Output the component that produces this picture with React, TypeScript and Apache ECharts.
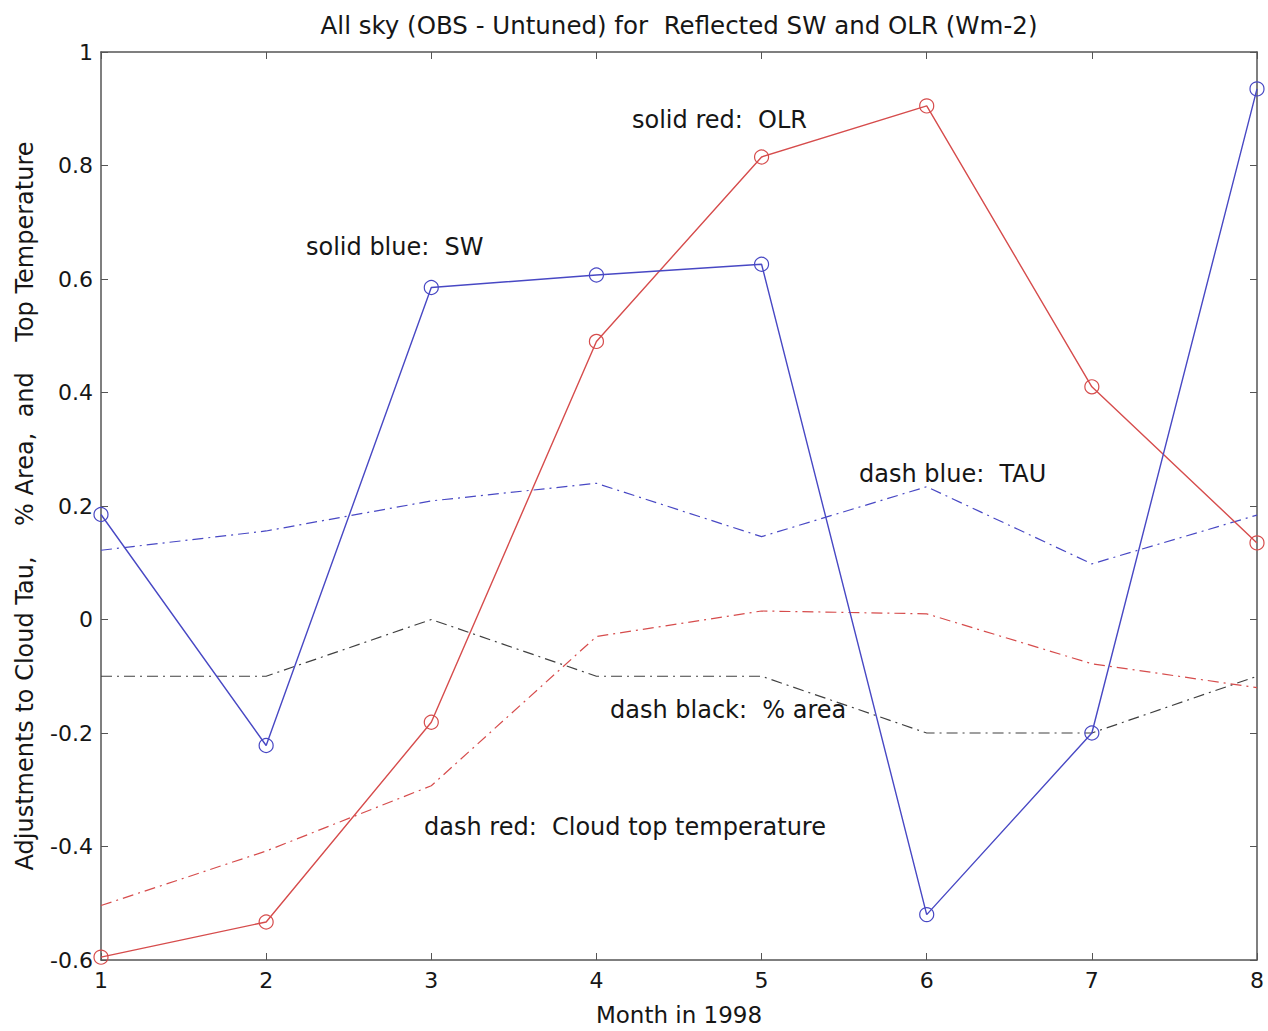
import React, { useEffect, useRef } from "react";
import * as echarts from "echarts";

const months = [1, 2, 3, 4, 5, 6, 7, 8];
const swSolidBlue = [0.185, -0.222, 0.585, 0.607, 0.626, -0.52, -0.2, 0.935];
const olrSolidRed = [-0.595, -0.533, -0.181, 0.49, 0.815, 0.905, 0.41, 0.135];
const tauDashBlue = [0.122, 0.156, 0.209, 0.24, 0.146, 0.234, 0.098, 0.184];
const areaDashBlack = [-0.1, -0.1, 0.0, -0.1, -0.1, -0.2, -0.2, -0.1];
const tempDashRed = [-0.504, -0.408, -0.293, -0.03, 0.015, 0.01, -0.078, -0.12];
const yTicks = [-0.6, -0.4, -0.2, 0, 0.2, 0.4, 0.6, 0.8, 1];

const titleText = "All sky (OBS - Untuned) for  Reflected SW and OLR (Wm-2)";
const xLabel = "Month in 1998";
const yLabel = "Adjustments to Cloud Tau,    % Area,  and    Top Temperature";

const BLUE = "#4848c4";
const RED = "#d64c4c";
const BLACK = "#404040";
const AXIS = "#555555";
const FONT = "DejaVu Sans, Liberation Sans, Arial, sans-serif";
const TXT = "#161616";

const pairs = (ys: number[]) => months.map((m, i) => [m, ys[i]]);

export default function App() {
  const ref = useRef<HTMLDivElement>(null);
  useEffect(() => {
    document.body.style.margin = "0";
    const chart = echarts.init(ref.current!, undefined, { renderer: "svg" });
    const dashDot = [11, 5, 2, 5];
    const axisCommon = {
      min: 1,
      max: 8,
      interval: 1,
      axisLine: { show: true, onZero: false, lineStyle: { color: AXIS, width: 1.5 } },
      axisTick: { show: true, inside: true, length: 7, lineStyle: { color: AXIS, width: 1 } },
      splitLine: { show: false },
    };
    const yCommon = {
      min: -0.6,
      max: 1,
      interval: 0.2,
      axisLine: { show: true, onZero: false, lineStyle: { color: AXIS, width: 1.5 } },
      axisTick: { show: true, inside: true, length: 7, lineStyle: { color: AXIS, width: 1 } },
      splitLine: { show: false },
    };
    const annot = (text: string, left: number, top: number) => ({
      type: "text",
      left,
      top,
      style: { text, fontSize: 24, fill: TXT, fontFamily: FONT },
    });
    chart.setOption({
      animation: false,
      backgroundColor: "#ffffff",
      textStyle: { fontFamily: FONT },
      title: {
        text: titleText,
        left: 674,
        top: 8,
        textAlign: "center",
        textStyle: { fontSize: 24.5, fontWeight: "normal", color: TXT, fontFamily: FONT },
      },
      grid: { left: 101, top: 52, right: 11, bottom: 68 },
      xAxis: [
        {
          type: "value",
          position: "bottom",
          ...axisCommon,
          axisLabel: { color: TXT, fontSize: 22, margin: 9, fontFamily: FONT },
          name: xLabel,
          nameLocation: "middle",
          nameGap: 43,
          nameTextStyle: { color: TXT, fontSize: 23, fontFamily: FONT },
        },
        {
          type: "value",
          position: "top",
          ...axisCommon,
          axisLabel: { show: false },
        },
      ],
      yAxis: [
        {
          type: "value",
          position: "left",
          ...yCommon,
          axisLabel: {
            color: TXT,
            fontSize: 22,
            margin: 8,
            fontFamily: FONT,
            formatter: (v: number) => {
              const r = Math.round(v * 10) / 10;
              const found = yTicks.find((t) => Math.abs(t - r) < 1e-9);
              return found === undefined ? "" : String(found);
            },
          },
          name: yLabel,
          nameLocation: "middle",
          nameGap: 64,
          nameRotate: 90,
          nameTextStyle: { color: TXT, fontSize: 24, fontFamily: FONT },
        },
        {
          type: "value",
          position: "right",
          ...yCommon,
          axisLabel: { show: false },
        },
      ],
      graphic: [
        annot("solid red:  OLR", 632, 108),
        annot("solid blue:  SW", 306, 235),
        annot("dash blue:  TAU", 859, 462),
        annot("dash black:  % area", 610, 698),
        annot("dash red:  Cloud top temperature", 424, 815),
      ],
      series: [
        {
          type: "line",
          name: "TAU",
          data: pairs(tauDashBlue),
          symbol: "none",
          lineStyle: { color: BLUE, width: 1.2, type: dashDot },
        },
        {
          type: "line",
          name: "% area",
          data: pairs(areaDashBlack),
          symbol: "none",
          lineStyle: { color: BLACK, width: 1.2, type: dashDot },
        },
        {
          type: "line",
          name: "Cloud top temperature",
          data: pairs(tempDashRed),
          symbol: "none",
          lineStyle: { color: RED, width: 1.2, type: dashDot },
        },
        {
          type: "line",
          name: "OLR",
          data: pairs(olrSolidRed),
          symbol: "circle",
          symbolSize: 14,
          itemStyle: { color: "transparent", borderColor: RED, borderWidth: 1.2 },
          lineStyle: { color: RED, width: 1.4 },
        },
        {
          type: "line",
          name: "SW",
          data: pairs(swSolidBlue),
          symbol: "circle",
          symbolSize: 14,
          itemStyle: { color: "transparent", borderColor: BLUE, borderWidth: 1.2 },
          lineStyle: { color: BLUE, width: 1.4 },
        },
      ],
    });
    return () => chart.dispose();
  }, []);
  return <div ref={ref} style={{ width: 1268, height: 1031 }} />;
}
